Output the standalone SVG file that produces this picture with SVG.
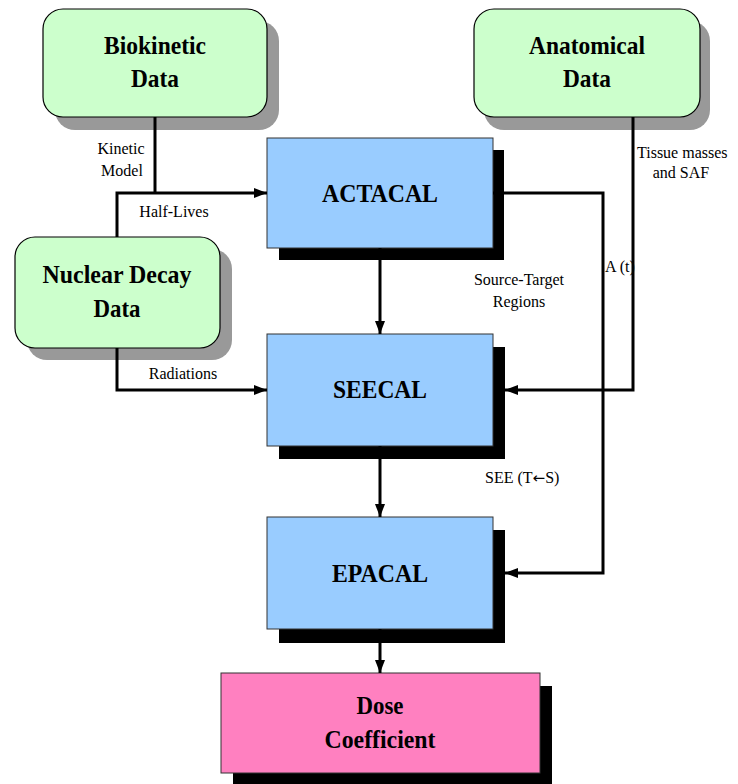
<svg xmlns="http://www.w3.org/2000/svg" width="738" height="784" viewBox="0 0 738 784">
<style>
.g{fill:#ccffcc;stroke:#000;stroke-width:1.2}
.gs{fill:#999}
.b{fill:#99ccff;stroke:#333;stroke-width:1}
.bs{fill:#000}
.p{fill:#ff80c0;stroke:#333;stroke-width:1}
.t{font-family:'Liberation Serif','Times New Roman',Tinos,serif;font-weight:bold;font-size:26px;text-anchor:middle;fill:#000}
.l{font-family:'Liberation Serif','Times New Roman',Tinos,serif;font-size:16px;fill:#000}
.c{fill:none;stroke:#000;stroke-width:3}
</style>
<defs>
<marker id="ah" markerWidth="13" markerHeight="12" viewBox="0 0 13 12" refX="13" refY="6" orient="auto" markerUnits="userSpaceOnUse">
<path d="M0,1 L13,6 L0,11 Z" fill="#000"/>
</marker>
</defs>
<rect width="738" height="784" fill="#fff"/>
<g id="biokinetic">
<rect class="gs" x="55" y="21" width="224" height="109" rx="20"/>
<rect class="g" x="43" y="9" width="224" height="108" rx="20"/>
<text class="t" x="155" y="54" textLength="102" lengthAdjust="spacingAndGlyphs">Biokinetic</text>
<text class="t" x="155" y="87" textLength="48" lengthAdjust="spacingAndGlyphs">Data</text>
</g>
<g id="anatomical">
<rect class="gs" x="484" y="21" width="226" height="109" rx="20"/>
<rect class="g" x="474" y="9" width="226" height="108" rx="20"/>
<text class="t" x="587" y="54" textLength="116" lengthAdjust="spacingAndGlyphs">Anatomical</text>
<text class="t" x="587" y="87" textLength="48" lengthAdjust="spacingAndGlyphs">Data</text>
</g>
<g id="nuclear">
<rect class="gs" x="27" y="249" width="205" height="111" rx="20"/>
<rect class="g" x="15" y="237" width="205" height="111" rx="20"/>
<text class="t" x="117" y="283" textLength="149" lengthAdjust="spacingAndGlyphs">Nuclear Decay</text>
<text class="t" x="117" y="317" textLength="47" lengthAdjust="spacingAndGlyphs">Data</text>
</g>
<g id="actacal">
<rect class="bs" x="279" y="150" width="225" height="110"/>
<rect class="b" x="267" y="138" width="226" height="110"/>
<text class="t" x="380" y="202" textLength="116" lengthAdjust="spacingAndGlyphs">ACTACAL</text>
</g>
<g id="seecal">
<rect class="bs" x="279" y="347" width="226" height="112"/>
<rect class="b" x="267" y="334" width="226" height="112"/>
<text class="t" x="380" y="398" textLength="94" lengthAdjust="spacingAndGlyphs">SEECAL</text>
</g>
<g id="epacal">
<rect class="bs" x="279" y="530" width="226" height="113"/>
<rect class="b" x="267" y="517" width="226" height="112"/>
<text class="t" x="380" y="582" textLength="96" lengthAdjust="spacingAndGlyphs">EPACAL</text>
</g>
<g id="dose">
<rect class="bs" x="233" y="686" width="319" height="98"/>
<rect class="p" x="221" y="673" width="319" height="100"/>
<text class="t" x="380" y="714" textLength="47" lengthAdjust="spacingAndGlyphs">Dose</text>
<text class="t" x="380" y="748" textLength="111" lengthAdjust="spacingAndGlyphs">Coefficient</text>
</g>
<g id="connectors">
<path class="c" d="M155,117 V193"/>
<path class="c" d="M117,237 V193 H267" marker-end="url(#ah)"/>
<path class="c" d="M117,348 V390 H267" marker-end="url(#ah)"/>
<path class="c" d="M493,193 H603 V573 H505" marker-end="url(#ah)"/>
<path class="c" d="M633,117 V390 H505" marker-end="url(#ah)"/>
<path class="c" d="M380,248 V334" marker-end="url(#ah)"/>
<path class="c" d="M380,446 V517" marker-end="url(#ah)"/>
<path class="c" d="M380,629 V673" marker-end="url(#ah)"/>
</g>
<g id="labels">
<text class="l" x="121" y="154" text-anchor="middle">Kinetic</text>
<text class="l" x="122" y="176" text-anchor="middle">Model</text>
<text class="l" x="174" y="217" text-anchor="middle">Half-Lives</text>
<text class="l" x="183" y="379" text-anchor="middle">Radiations</text>
<text class="l" x="519" y="285" text-anchor="middle">Source-Target</text>
<text class="l" x="519" y="307" text-anchor="middle">Regions</text>
<text class="l" x="605" y="272">A (t)</text>
<text class="l" x="637" y="158">Tissue masses</text>
<text class="l" x="681" y="178" text-anchor="middle">and SAF</text>
<text class="l" x="485" y="483">SEE (T<tspan font-family="'DejaVu Sans',sans-serif" font-size="15">←</tspan>S)</text>
</g>
</svg>
